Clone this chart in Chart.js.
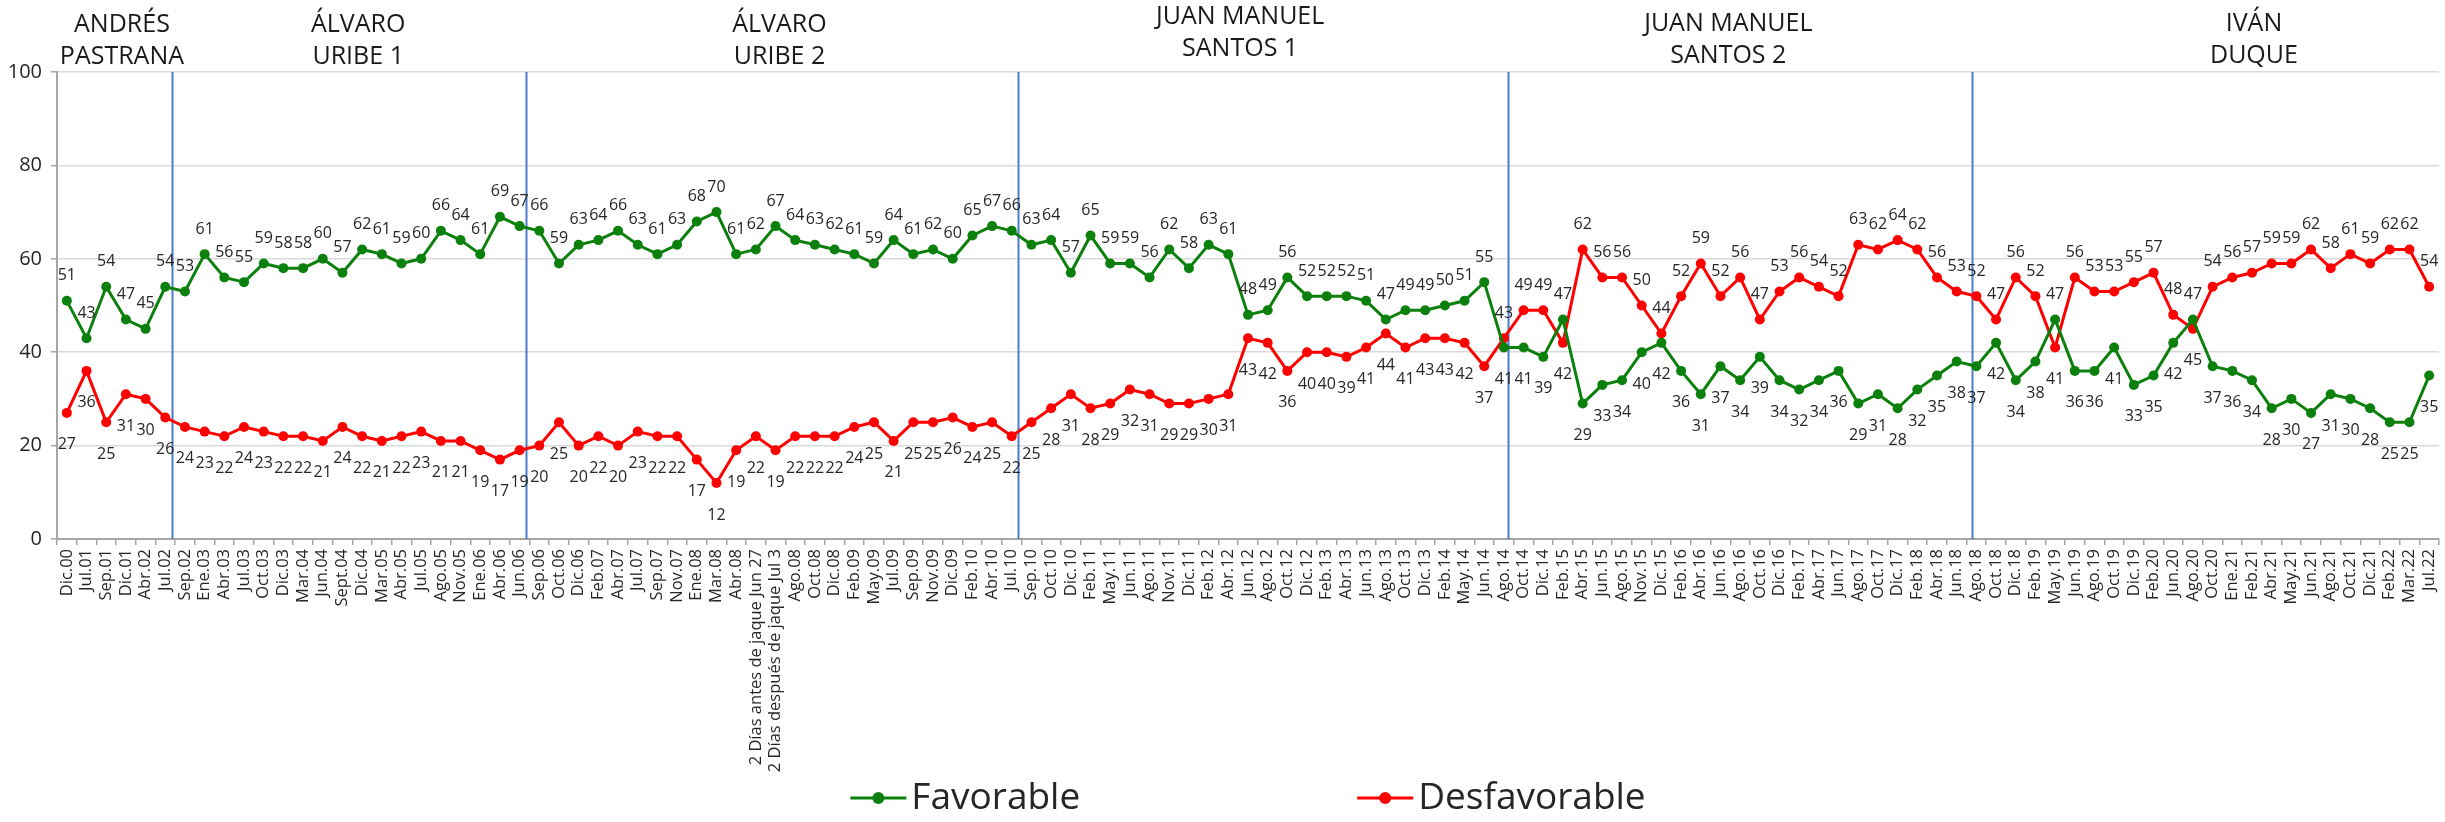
<!DOCTYPE html>
<html lang="es">
<head>
<meta charset="UTF-8">
<title>Imagen de los presidentes: favorable / desfavorable</title>
<script src="https://cdn.jsdelivr.net/npm/chart.js@4.4.0/dist/chart.umd.min.js"></script>
<style>
    html, body { margin: 0; padding: 0; background: #fff; }
    #grafica { display: block; }
</style>
</head>
<body>
<canvas id="grafica" width="2445" height="822"></canvas>

<script>
    // fechas de medición
    var meses = [
        'Dic.00', 'Jul.01', 'Sep.01', 'Dic.01', 'Abr.02', 'Jul.02',
        'Sep.02', 'Ene.03', 'Abr.03', 'Jul.03', 'Oct.03', 'Dic.03', 'Mar.04', 'Jun.04', 'Sept.04', 'Dic.04',
        'Mar.05', 'Abr.05', 'Jul.05', 'Ago.05', 'Nov.05', 'Ene.06', 'Abr.06', 'Jun.06',
        'Sep.06', 'Oct.06', 'Dic.06', 'Feb.07', 'Abr.07', 'Jul.07', 'Sep.07', 'Nov.07', 'Ene.08', 'Mar.08', 'Abr.08',
        '2 Días antes de jaque Jun 27', '2 Días después de jaque Jul 3',
        'Ago.08', 'Oct.08', 'Dic.08', 'Feb.09', 'May.09', 'Jul.09', 'Sep.09', 'Nov.09', 'Dic.09', 'Feb.10', 'Abr.10', 'Jul.10',
        'Sep.10', 'Oct.10', 'Dic.10', 'Feb.11', 'May.11', 'Jun.11', 'Ago.11', 'Nov.11', 'Dic.11', 'Feb.12', 'Abr.12',
        'Jun.12', 'Ago.12', 'Oct.12', 'Dic.12', 'Feb.13', 'Abr.13', 'Jun.13', 'Ago.13', 'Oct.13', 'Dic.13', 'Feb.14', 'May.14', 'Jun.14',
        'Ago.14', 'Oct.14', 'Dic.14', 'Feb.15', 'Abr.15', 'Jun.15', 'Ago.15', 'Nov.15', 'Dic.15', 'Feb.16', 'Abr.16', 'Jun.16',
        'Ago.16', 'Oct.16', 'Dic.16', 'Feb.17', 'Abr.17', 'Jun.17', 'Ago.17', 'Oct.17', 'Dic.17', 'Feb.18', 'Abr.18', 'Jun.18',
        'Ago.18', 'Oct.18', 'Dic.18', 'Feb.19', 'May.19', 'Jun.19', 'Ago.19', 'Oct.19', 'Dic.19', 'Feb.20', 'Jun.20', 'Ago.20',
        'Oct.20', 'Ene.21', 'Feb.21', 'Abr.21', 'May.21', 'Jun.21', 'Ago.21', 'Oct.21', 'Dic.21', 'Feb.22', 'Mar.22', 'Jul.22'
    ];

    var favorable = [
        51, 43, 54, 47, 45, 54,
        53, 61, 56, 55, 59, 58, 58, 60, 57, 62, 61, 59, 60, 66, 64, 61, 69, 67,
        66, 59, 63, 64, 66, 63, 61, 63, 68, 70, 61, 62, 67, 64, 63, 62, 61, 59, 64, 61, 62, 60, 65, 67, 66,
        63, 64, 57, 65, 59, 59, 56, 62, 58, 63, 61, 48, 49, 56, 52, 52, 52, 51, 47, 49, 49, 50, 51, 55,
        41, 41, 39, 47, 29, 33, 34, 40, 42, 36, 31, 37, 34, 39, 34, 32, 34, 36, 29, 31, 28, 32, 35, 38,
        37, 42, 34, 38, 47, 36, 36, 41, 33, 35, 42, 47, 37, 36, 34, 28, 30, 27, 31, 30, 28, 25, 25, 35
    ];

    var desfavorable = [
        27, 36, 25, 31, 30, 26,
        24, 23, 22, 24, 23, 22, 22, 21, 24, 22, 21, 22, 23, 21, 21, 19, 17, 19,
        20, 25, 20, 22, 20, 23, 22, 22, 17, 12, 19, 22, 19, 22, 22, 22, 24, 25, 21, 25, 25, 26, 24, 25, 22,
        25, 28, 31, 28, 29, 32, 31, 29, 29, 30, 31, 43, 42, 36, 40, 40, 39, 41, 44, 41, 43, 43, 42, 37,
        43, 49, 49, 42, 62, 56, 56, 50, 44, 52, 59, 52, 56, 47, 53, 56, 54, 52, 63, 62, 64, 62, 56, 53,
        52, 47, 56, 52, 41, 56, 53, 53, 55, 57, 48, 45, 54, 56, 57, 59, 59, 62, 58, 61, 59, 62, 62, 54
    ];

    var presidentes = [
        ['ANDRÉS', 'PASTRANA'],
        ['ÁLVARO', 'URIBE 1'],
        ['ÁLVARO', 'URIBE 2'],
        ['JUAN MANUEL', 'SANTOS 1'],
        ['JUAN MANUEL', 'SANTOS 2'],
        ['IVÁN', 'DUQUE']
    ];

    // dónde va cada nombre (posición en el eje de fechas) y la altura de su primera línea
    var nombreEnEje = [2.8, 14.8, 36.2, 59.6, 84.4, 111.1];
    var nombreAltura = [25, 25, 25, 17, 24, 24];
    // cambios de gobierno
    var cambios = [5.33, 23.33, 48.3, 73.2, 96.8];

    var VERDE = '#0c800c';
    var ROJO = '#ff0000';
    var TEXTO = '#262626';

    Chart.defaults.font.family = '"Open Sans", sans-serif';

    // líneas de cambio de gobierno, debajo de las series
    var divisiones = {
        id: 'divisiones',
        beforeDatasetsDraw: function (chart) {
            var ctx = chart.ctx, x = chart.scales.x, area = chart.chartArea;
            ctx.save();
            ctx.strokeStyle = '#4a7cc7';
            ctx.lineWidth = 2;
            cambios.forEach(function (c) {
                var px = Math.round(x.getPixelForValue(c)) + 0.5;
                ctx.beginPath();
                ctx.moveTo(px, area.top);
                ctx.lineTo(px, area.bottom);
                ctx.stroke();
            });
            ctx.restore();
        }
    };

    // valor encima de la serie más alta y debajo de la más baja
    var etiquetas = {
        id: 'etiquetas',
        afterDatasetsDraw: function (chart) {
            var ctx = chart.ctx;
            ctx.save();
            ctx.font = '16px "Open Sans"';
            ctx.fillStyle = TEXTO;
            ctx.textAlign = 'center';
            ctx.textBaseline = 'middle';
            for (var i = 0; i < meses.length; i++) {
                var arriba = favorable[i] >= desfavorable[i] ? 0 : 1;
                for (var d = 0; d < 2; d++) {
                    var p = chart.getDatasetMeta(d).data[i];
                    var v = chart.data.datasets[d].data[i];
                    ctx.fillText(v, p.x, p.y + (d === arriba ? -25 : 32));
                }
            }
            ctx.restore();
        }
    };

    // nombres de los presidentes y leyenda inferior
    var rotulos = {
        id: 'rotulos',
        afterDraw: function (chart) {
            var ctx = chart.ctx, x = chart.scales.x, area = chart.chartArea;
            ctx.save();
            ctx.fillStyle = '#1a1a1a';
            ctx.font = '25px "Open Sans"';
            ctx.textAlign = 'center';
            ctx.textBaseline = 'middle';
            presidentes.forEach(function (lineas, k) {
                var px = x.getPixelForValue(nombreEnEje[k]);
                lineas.forEach(function (t, j) {
                    ctx.fillText(t, px, nombreAltura[k] + j * 32);
                });
            });

            // leyenda
            var series = chart.data.datasets;
            var yl = 798, marca = 56, sep = 5, hueco = 277;
            ctx.font = '37px "Open Sans"';
            ctx.textAlign = 'left';
            var anchos = series.map(function (s) { return marca + sep + ctx.measureText(s.label).width; });
            var total = anchos[0] + hueco + anchos[1];
            var xl = (area.left + area.right) / 2 - total / 2;
            series.forEach(function (s, k) {
                ctx.strokeStyle = s.borderColor;
                ctx.fillStyle = s.borderColor;
                ctx.lineWidth = 3;
                ctx.beginPath();
                ctx.moveTo(xl, yl);
                ctx.lineTo(xl + marca, yl);
                ctx.stroke();
                ctx.beginPath();
                ctx.arc(xl + marca / 2, yl, 6, 0, Math.PI * 2);
                ctx.fill();
                ctx.fillStyle = TEXTO;
                ctx.fillText(s.label, xl + marca + sep, yl);
                xl += anchos[k] + hueco;
            });
            ctx.restore();
        }
    };

    var ctx = document.getElementById('grafica').getContext('2d');
    var chart = new Chart(ctx, {
        type: 'line',
        data: {
            labels: meses,
            datasets: [
                {
                    label: 'Favorable',
                    data: favorable,
                    borderColor: VERDE,
                    backgroundColor: VERDE,
                    borderWidth: 3,
                    pointRadius: 5,
                    pointBorderWidth: 0,
                    tension: 0
                },
                {
                    label: 'Desfavorable',
                    data: desfavorable,
                    borderColor: ROJO,
                    backgroundColor: ROJO,
                    borderWidth: 3,
                    pointRadius: 5,
                    pointBorderWidth: 0,
                    tension: 0
                }
            ]
        },
        options: {
            responsive: false,
            animation: false,
            layout: { padding: { top: 72, right: 6, bottom: 40, left: 0 } },
            plugins: {
                legend: { display: false },
                tooltip: { enabled: false }
            },
            scales: {
                x: {
                    offset: true,
                    grid: { offset: true, drawOnChartArea: false, tickLength: 6, color: '#a6a6a6', lineWidth: 1.5 },
                    border: { color: '#a6a6a6', width: 2 },
                    ticks: { autoSkip: false, maxRotation: 90, minRotation: 90, padding: 4, color: TEXTO, font: { size: 16.5 } },
                    afterFit: function (s) {
                        s.height = 243;
                        // las etiquetas verticales no necesitan margen lateral
                        s.paddingLeft = 0;
                        s.paddingRight = 0;
                    }
                },
                y: {
                    min: 0,
                    max: 100,
                    ticks: { stepSize: 20, padding: 9, color: TEXTO, font: { size: 20 } },
                    grid: { color: '#d9d9d9', lineWidth: 1.5, tickLength: 6, tickColor: '#a6a6a6' },
                    border: { color: '#a6a6a6', width: 2 },
                    afterFit: function (s) { s.width = 57; }
                }
            }
        },
        plugins: [divisiones, etiquetas, rotulos]
    });
</script>
</body>
</html>
